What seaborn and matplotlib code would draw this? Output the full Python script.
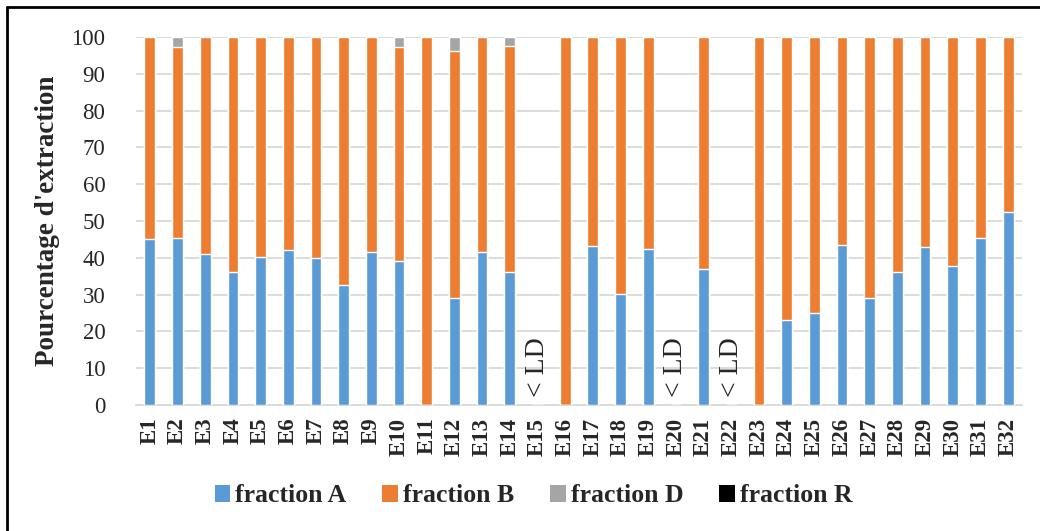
import numpy as np
import pandas as pd
import seaborn as sns
import matplotlib.pyplot as plt
from matplotlib.patches import Patch
from matplotlib.lines import Line2D

# Données (en %)
echantillons = [f"E{i}" for i in range(1, 33)]
fraction_a = [45.1, 45.4, 41.0, 36.2, 40.3, 42.1, 40.0, 32.6, 41.6, 39.1, 0, 29.0,
              41.5, 36.1, 0, 0, 43.1, 30.2, 42.3, 0, 37.0, 0, 0, 23.0,
              24.9, 43.5, 29.0, 36.2, 42.8, 37.7, 45.4, 52.4]
fraction_b = [54.9, 52.0, 59.0, 63.8, 59.7, 57.9, 60.0, 67.4, 58.4, 58.2, 100, 67.3,
              58.5, 61.4, 0, 100, 56.9, 69.8, 57.7, 0, 63.0, 0, 100, 77.0,
              75.1, 56.5, 71.0, 63.8, 57.2, 62.3, 54.6, 47.6]
fraction_d = [0, 2.6, 0, 0, 0, 0, 0, 0, 0, 2.7, 0, 3.7,
              0, 2.5, 0, 0, 0, 0, 0, 0, 0, 0, 0, 0,
              0, 0, 0, 0, 0, 0, 0, 0]
fraction_r = [0] * 32
sous_ld = ["E15", "E20", "E22"]

noms = ["fraction A", "fraction B", "fraction D", "fraction R"]
couleurs = ["#5B9BD5", "#ED7D31", "#A5A5A5", "#000000"]

df = pd.DataFrame({
    "Echantillon": echantillons,
    "fraction A": fraction_a,
    "fraction B": fraction_b,
    "fraction D": fraction_d,
    "fraction R": fraction_r,
})

sns.set_theme(style="white")
plt.rcParams["font.family"] = ["Liberation Serif", "DejaVu Serif"]

fig = plt.figure(figsize=(10.4, 5.31), dpi=100)
ax = fig.add_axes([136 / 1040, 1 - 405 / 531, (1022 - 136) / 1040, (405 - 37) / 531])

# Barres empilées : on dessine les cumuls du plus haut au plus bas
cumul = df[noms].cumsum(axis=1)
for nom, couleur in reversed(list(zip(noms, couleurs))):
    sns.barplot(x=df["Echantillon"], y=cumul[nom], color=couleur, width=0.39,
                order=echantillons, errorbar=None, saturation=1, ax=ax, zorder=3)

for ech in sous_ld:
    ax.text(echantillons.index(ech), 2.3, "< LD", rotation=90, ha="center",
            va="bottom", fontsize=20, zorder=4)

ax.set_ylim(0, 100)
ax.set_yticks(np.arange(0, 101, 10))
ax.yaxis.grid(True, color="#D9D9D9", linewidth=1.3, zorder=0)
ax.set_axisbelow(True)
for s in ["top", "right", "left"]:
    ax.spines[s].set_visible(False)
ax.spines["bottom"].set_color("#D9D9D9")
ax.spines["bottom"].set_linewidth(1.3)

ax.tick_params(axis="y", length=0, pad=22, labelsize=16.5)
ax.tick_params(axis="x", length=0, pad=9, labelsize=16.5, rotation=90)
for lab in ax.get_xticklabels():
    lab.set_fontweight("bold")

ax.set_xlabel("")
ax.set_ylabel("Pourcentage d'extraction", fontsize=19.5, fontweight="bold", labelpad=8)

poignees = [Patch(facecolor=c, edgecolor="none") for c in couleurs]
fig.legend(poignees, noms, loc="center", bbox_to_anchor=(0.513, 1 - 496 / 531),
           ncol=4, frameon=False, handlelength=0.6, handleheight=0.6,
           handletextpad=0.2, columnspacing=1.4,
           prop={"size": 18.5, "weight": "bold"})

# Cadre du graphique (bords haut et gauche visibles)
fig.add_artist(Line2D([7 / 1040, 7 / 1040], [0, 1 - 7 / 531], transform=fig.transFigure,
                      color="black", linewidth=2))
fig.add_artist(Line2D([7 / 1040, 1], [1 - 7 / 531, 1 - 7 / 531], transform=fig.transFigure,
                      color="black", linewidth=2))

fig.savefig("out.png", dpi=100)
